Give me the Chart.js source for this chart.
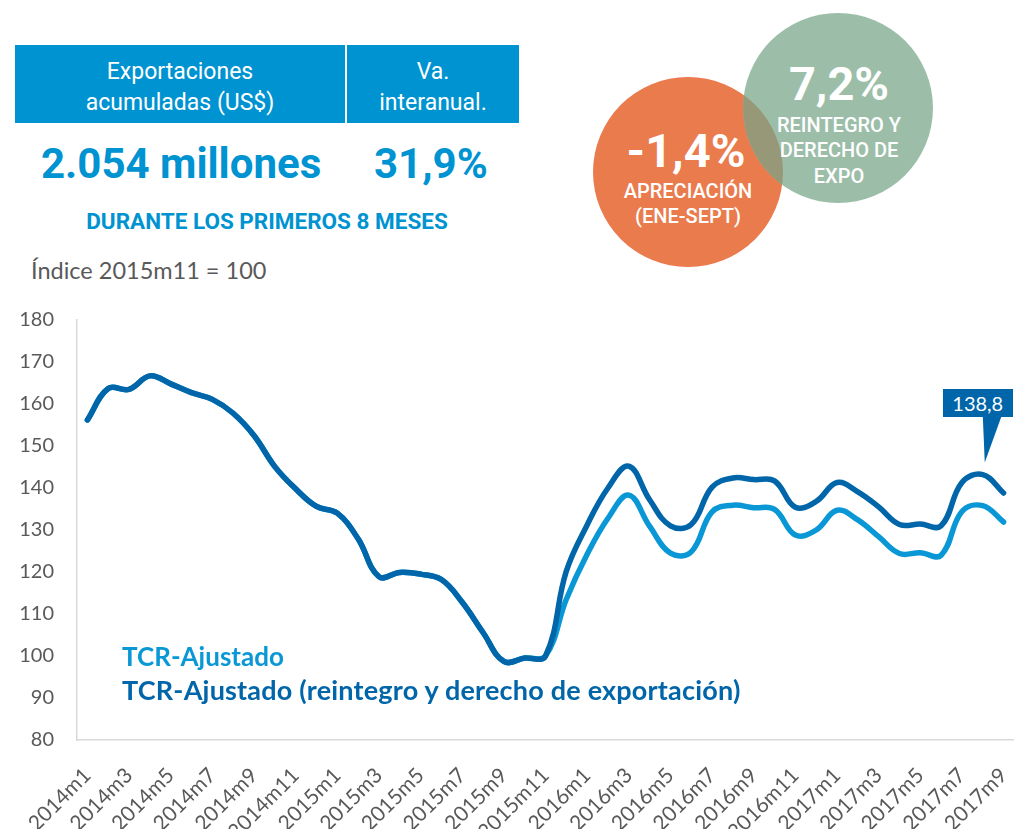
<!DOCTYPE html>
<html>
<head>
<meta charset="utf-8">
<script src="https://cdn.jsdelivr.net/npm/chart.js@4.4.1/dist/chart.umd.min.js"></script>
<style>
  html, body { margin: 0; padding: 0; background: #ffffff; }
  body { width: 1014px; height: 829px; position: relative; overflow: hidden; font-family: Roboto, "Liberation Sans", sans-serif; }
  .hbox { position: absolute; top: 45px; height: 78px; box-sizing: border-box; padding-top: 6px; background: #0093d1; color: #fff; font-family: Roboto, sans-serif; font-size: 23px; line-height: 31px; text-align: center; display: flex; flex-direction: column; justify-content: center; }
  .big { position: absolute; top: 140px; color: #0093d1; font-family: Roboto, sans-serif; font-weight: 700; font-size: 42px; line-height: 48px; white-space: nowrap; }
  #durante { position: absolute; left: 0; width: 534px; top: 208px; text-align: center; color: #0093d1; font-family: Roboto, sans-serif; font-weight: 700; font-size: 22.5px; letter-spacing: 0px; white-space: nowrap; }
  #indice { position: absolute; left: 31px; top: 256px; color: #595959; font-family: Lato, sans-serif; font-size: 23.5px; white-space: nowrap; }
  #wrap { position: absolute; left: 0; top: 300px; width: 1014px; height: 529px; }
  .leg { position: absolute; left: 122px; font-family: Lato, sans-serif; font-weight: 700; white-space: nowrap; }
  #callout { position: absolute; width: 70px; height: 74px; }
  #callout .box { position: absolute; left: 0; top: 0; width: 70px; height: 28px; background: #0065a9; color: #fff; font-family: Lato, sans-serif; font-size: 20px; line-height: 28px; text-align: center; }
  #callout .tri { position: absolute; left: 0; top: 0; width: 70px; height: 74px; background: #0065a9; clip-path: polygon(40px 27px, 59px 27px, 42px 74px); }
</style>
</head>
<body>
<div class="hbox" style="left:15px; width:330px;"><div>Exportaciones</div><div>acumuladas (US$)</div></div>
<div class="hbox" style="left:347px; width:172px;"><div>Va.</div><div>interanual.</div></div>
<div class="big" style="left:41px;">2.054 millones</div>
<div class="big" style="left:374px;">31,9%</div>
<div id="durante">DURANTE LOS PRIMEROS 8 MESES</div>
<div id="indice">Índice 2015m11 = 100</div>

<svg style="position:absolute;left:0;top:0;" width="1014" height="300">
  <defs>
    <clipPath id="clipOrange"><circle cx="688" cy="172" r="95"/></clipPath>
  </defs>
  <circle cx="688" cy="172" r="95" fill="#ea7b4d"/>
  <circle cx="838" cy="108" r="95" fill="#9cbea9"/>
  <circle cx="838" cy="108" r="95" fill="#979878" clip-path="url(#clipOrange)"/>
  <g fill="#ffffff" font-family="Roboto, sans-serif" text-anchor="middle">
    <text x="686" y="167" font-size="47" font-weight="700">-1,4%</text>
    <text x="688" y="198" font-size="20" font-weight="500">APRECIACIÓN</text>
    <text x="688" y="223" font-size="20" font-weight="500">(ENE-SEPT)</text>
    <text x="839" y="100" font-size="47" font-weight="700">7,2%</text>
    <text x="839" y="132" font-size="20" font-weight="500">REINTEGRO Y</text>
    <text x="839" y="157" font-size="20" font-weight="500">DERECHO DE</text>
    <text x="839" y="183" font-size="20" font-weight="500">EXPO</text>
  </g>
</svg>

<div id="wrap"><canvas id="c"></canvas></div>
<div class="leg" style="top:640px; font-size:26px; color:#0a97d5;">TCR-Ajustado</div>
<div class="leg" style="top:673px; font-size:27px; letter-spacing:0.2px; color:#0065a9;">TCR-Ajustado (reintegro y derecho de exportación)</div>
<div id="callout"><div class="tri"></div><div class="box">138,8</div></div>

<script>
const categories = [
  "2014m1","2014m2","2014m3","2014m4","2014m5","2014m6","2014m7","2014m8","2014m9","2014m10","2014m11","2014m12",
  "2015m1","2015m2","2015m3","2015m4","2015m5","2015m6","2015m7","2015m8","2015m9","2015m10","2015m11","2015m12",
  "2016m1","2016m2","2016m3","2016m4","2016m5","2016m6","2016m7","2016m8","2016m9","2016m10","2016m11","2016m12",
  "2017m1","2017m2","2017m3","2017m4","2017m5","2017m6","2017m7","2017m8","2017m9"
];
const tickLabels = [
  "2014m1","2014m3","2014m5","2014m7","2014m9","2014m11","2015m1","2015m3","2015m5","2015m7","2015m9","2015m11",
  "2016m1","2016m3","2016m5","2016m7","2016m9","2016m11","2017m1","2017m3","2017m5","2017m7","2017m9"
];
const tcrReintegro = [
  156.2, 163.7, 163.5, 166.7, 164.8, 162.7, 161.1, 157.8, 152.5, 145.1, 139.8, 135.6,
  134.0, 127.9, 118.9, 119.9, 119.5, 118.2, 112.8, 105.6, 98.7, 99.5, 100.0, 120.2,
  131.2, 140.0, 145.2, 137.2, 131.0, 131.3, 140.2, 142.4, 142.0, 141.7, 135.4, 136.8,
  141.3, 139.1, 135.5, 131.3, 131.4, 131.0, 141.3, 143.2, 138.8
];
const tcrAjustado = [
  156.2, 163.7, 163.5, 166.7, 164.8, 162.7, 161.1, 157.8, 152.5, 145.1, 139.8, 135.6,
  134.0, 127.9, 118.9, 119.9, 119.5, 118.2, 112.8, 105.6, 98.7, 99.5, 100.0, 113.5,
  124.2, 132.8, 138.3, 130.9, 124.5, 124.8, 134.3, 135.9, 135.3, 134.9, 128.8, 130.0,
  134.7, 132.4, 128.4, 124.4, 124.6, 124.0, 134.4, 135.8, 131.9
];
const yTicks = [80, 90, 100, 110, 120, 130, 140, 150, 160, 170, 180];
const calloutIndex = 43;

const calloutPlugin = {
  id: 'callout',
  afterRender(chart) {
    const xs = chart.scales.x, ys = chart.scales.y;
    const wrap = document.getElementById('wrap');
    const tipX = xs.getPixelForValue(calloutIndex) + 2 + wrap.offsetLeft;
    const tipY = ys.getPixelForValue(tcrReintegro[calloutIndex]) - 12 + wrap.offsetTop;
    const el = document.getElementById('callout');
    el.style.left = (tipX - 42) + 'px';
    el.style.top = (tipY - 74) + 'px';
  }
};

new Chart(document.getElementById('c'), {
  type: 'line',
  data: {
    labels: categories,
    datasets: [
      { label: 'TCR-Ajustado (reintegro y derecho de exportación)', data: tcrReintegro, borderColor: '#0065a9', borderWidth: 5.5, pointRadius: 0, tension: 0.4, borderCapStyle: 'round', borderJoinStyle: 'round', fill: false, order: 0 },
      { label: 'TCR-Ajustado', data: tcrAjustado, borderColor: '#0a97d5', borderWidth: 5.5, pointRadius: 0, tension: 0.4, borderCapStyle: 'round', borderJoinStyle: 'round', fill: false, order: 1 }
    ]
  },
  options: {
    responsive: true,
    maintainAspectRatio: false,
    animation: false,
    layout: { padding: { top: 20, right: 0, left: 0, bottom: 0 } },
    plugins: { legend: { display: false }, tooltip: { enabled: false } },
    scales: {
      x: {
        offset: true,
        grid: { display: true, drawOnChartArea: false, drawTicks: false, color: 'rgba(0,0,0,0)' },
        border: { display: true, color: '#d9d9d9', width: 1.5 },
        afterFit(scale) { scale.height = 89; scale.paddingLeft = 0; scale.paddingRight = 0; },
        ticks: {
          autoSkip: false, minRotation: 45, maxRotation: 45, padding: 23,
          color: '#595959', font: { family: 'Lato', size: 21 },
          callback(value, index) { const l = categories[index]; return tickLabels.includes(l) ? l : ''; }
        }
      },
      y: {
        min: 80, max: 180,
        afterBuildTicks(scale) { scale.ticks = yTicks.map(v => ({ value: v })); },
        afterFit(scale) { scale.width = 77; scale.paddingTop = 0; scale.paddingBottom = 0; },
        grid: { display: true, drawOnChartArea: false, drawTicks: false, color: 'rgba(0,0,0,0)' },
        border: { display: true, color: '#d9d9d9', width: 1.5 },
        ticks: { padding: 23, color: '#595959', font: { family: 'Lato', size: 20 } }
      }
    }
  },
  plugins: [calloutPlugin]
});
</script>
</body>
</html>
